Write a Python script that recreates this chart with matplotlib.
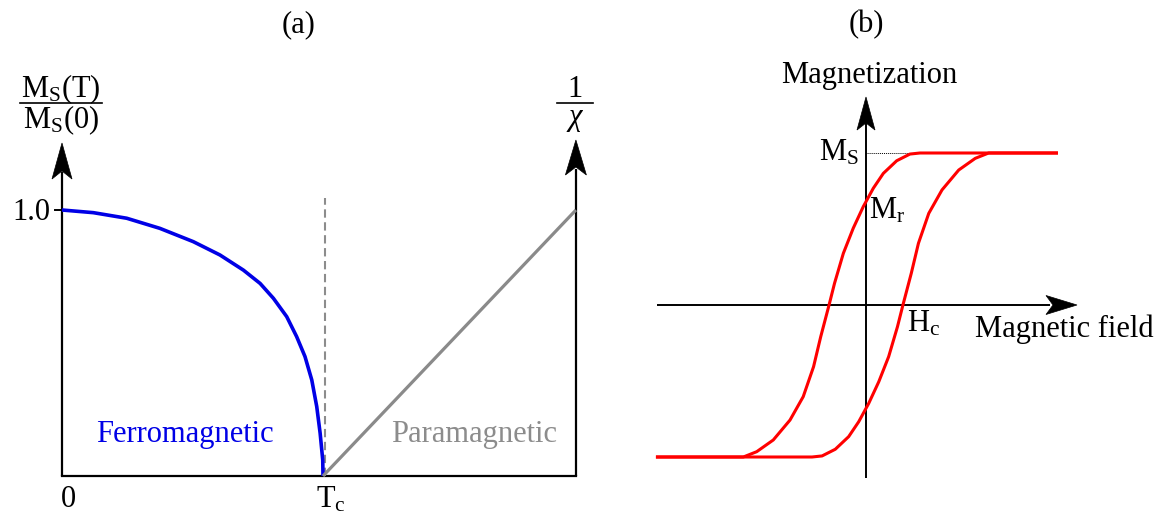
import matplotlib
matplotlib.use("Agg")
import matplotlib.pyplot as plt
from matplotlib.patches import Polygon
from matplotlib import transforms

plt.rcParams['font.family'] = ['Liberation Serif', 'DejaVu Serif']
plt.rcParams['mathtext.fontset'] = 'custom'
plt.rcParams['mathtext.rm'] = 'Liberation Serif'
plt.rcParams['mathtext.it'] = 'Liberation Serif:italic'

# ---------------- data ----------------
# (a) spontaneous magnetisation Ms(T)/Ms(0) vs T/Tc (ferromagnetic side)
T_ferro = [0.0, 0.120, 0.248, 0.375, 0.503, 0.605, 0.695, 0.759, 0.810, 0.861,
           0.899, 0.931, 0.957, 0.976, 0.989, 0.999, 1.0]
M_ferro = [1.0, 0.990, 0.969, 0.931, 0.881, 0.831, 0.774, 0.724, 0.668, 0.599,
           0.524, 0.449, 0.361, 0.261, 0.161, 0.060, 0.0]
# (a) inverse susceptibility 1/chi (paramagnetic side)
T_para = [1.0, 1.969]
inv_chi = [0.0, 1.0]
T_right_axis = 1.969

# (b) hysteresis loop (H and M normalised to Ms)
H_desc = [-1.382, -0.807, -0.719, -0.610, -0.500, -0.413, -0.345, -0.298, -0.243,
          -0.207, -0.149, -0.084, -0.018, 0.048, 0.114, 0.202, 0.289, 0.355, 1.263]
M_desc = [-1.0, -1.0, -0.965, -0.888, -0.757, -0.603, -0.406, -0.209, 0.0,
          0.143, 0.340, 0.505, 0.647, 0.768, 0.866, 0.949, 0.993, 1.0, 1.0]
H_asc = [-1.382, -0.355, -0.289, -0.202, -0.114, -0.048, 0.018, 0.084, 0.149,
         0.207, 0.243, 0.298, 0.345, 0.413, 0.500, 0.610, 0.719, 0.807, 1.263]
M_asc = [-1.0, -1.0, -0.993, -0.949, -0.866, -0.768, -0.647, -0.505, -0.340,
         -0.143, 0.0, 0.209, 0.406, 0.603, 0.757, 0.888, 0.965, 1.0, 1.0]
Ms_level = 1.0

# ---------------- figure ----------------
W, H = 1167, 516
fig = plt.figure(figsize=(W / 100, H / 100), dpi=100)

# panel (a): pixel mapping x = 62 + 261*T, y = 476 - 266*M
ax_a = fig.add_axes([0, 0, 620 / W, 1])
ax_a.set_xlim(-62 / 261, (620 - 62) / 261)
ax_a.set_ylim((476 - 516) / 266, 476 / 266)
ax_a.axis('off')

# panel (b): pixel mapping x = 866 + 152*H, y = 305 - 152*M
ax_b = fig.add_axes([620 / W, 0, (W - 620) / W, 1])
ax_b.set_xlim((620 - 866) / 152, (W - 866) / 152)
ax_b.set_ylim((305 - 516) / 152, 305 / 152)
ax_b.axis('off')


def A(xp, yp):
    return ((xp - 62) / 261, (476 - yp) / 266)


def B(xp, yp):
    return ((xp - 866) / 152, (305 - yp) / 152)


def head(ax, tip, angle, L, Wd, notch):
    verts = [(0, 0), (-L, Wd / 2), (-L + notch, 0), (-L, -Wd / 2)]
    tr = (transforms.Affine2D().scale(0.01).rotate_deg(angle)
          + fig.dpi_scale_trans
          + transforms.ScaledTranslation(tip[0], tip[1], ax.transData))
    ax.add_patch(Polygon(verts, closed=True, facecolor='black', edgecolor='black',
                         lw=0.5, transform=tr, clip_on=False))


FS = 22

# ---- panel (a) ----
axlw = 1.6
tipL = A(62, 143)
tipR = A(576, 140)
ax_a.plot([0, 0], [0, A(0, 172)[1]], color='black', lw=axlw, solid_capstyle='butt')
ax_a.plot([T_right_axis, T_right_axis], [0, A(0, 169)[1]], color='black', lw=axlw,
          solid_capstyle='butt')
ax_a.plot([0, T_right_axis], [0, 0], color='black', lw=axlw, solid_capstyle='projecting')
head(ax_a, (0, tipL[1]), 90, 36, 20, 8)
head(ax_a, (T_right_axis, tipR[1]), 90, 35, 21, 8)
# tick at 1.0
ax_a.plot([A(55, 0)[0], 0], [1.0, 1.0], color='black', lw=1.4)

# dashed Tc line
ax_a.plot([1.008, 1.008], [0, A(0, 198)[1]], color='#8c8c8c', lw=1.5, dashes=(4, 2.2))
# curves
ax_a.plot(T_ferro, M_ferro, color='#0000e6', lw=2.6, solid_capstyle='butt',
          solid_joinstyle='round')
ax_a.plot(T_para, inv_chi, color='#8a8a8a', lw=2.3, solid_capstyle='butt')

# texts
ax_a.text(*A(50, 220), '1.0', fontsize=FS, ha='right', va='baseline')
ax_a.text(*A(68, 507), '0', fontsize=FS, ha='center', va='baseline')
ax_a.text(*A(316, 507), r'$\mathrm{T_c}$', fontsize=FS, ha='left', va='baseline')
ax_a.text(*A(96, 442), 'Ferromagnetic', fontsize=FS, ha='left', va='baseline', color='#0000e6')
ax_a.text(*A(391, 442), 'Paramagnetic', fontsize=FS, ha='left', va='baseline', color='#8c8c8c')
ax_a.text(*A(299, 32), '(a)', fontsize=FS, ha='center', va='baseline')
# fraction Ms(T)/Ms(0)
ax_a.text(*A(61, 97), r'$\mathrm{M_S(T)}$', fontsize=FS, ha='center', va='baseline')
ax_a.plot([A(20, 0)[0], A(102, 0)[0]], [A(0, 103)[1]] * 2, color='black', lw=1.2)
ax_a.text(*A(61, 128), r'$\mathrm{M_S(0)}$', fontsize=FS, ha='center', va='baseline')
# fraction 1/chi
ax_a.text(*A(575, 97), '1', fontsize=FS, ha='center', va='baseline')
ax_a.plot([A(557, 0)[0], A(593, 0)[0]], [A(0, 103)[1]] * 2, color='black', lw=1.2)
ax_a.text(*A(575, 125), r'$\chi$', fontsize=FS, ha='center', va='baseline')

# ---- panel (b) ----
blw = 1.4
vtip = B(866, 97)
htip = B(1077, 305)
ax_b.plot([0, 0], [B(0, 478)[1], B(0, 122)[1]], color='black', lw=blw, solid_capstyle='butt')
ax_b.plot([B(657, 0)[0], B(1050, 0)[0]], [0, 0], color='black', lw=blw, solid_capstyle='butt')
head(ax_b, (0, vtip[1]), 90, 33, 18, 7)
head(ax_b, (htip[0], 0), 0, 31, 19, 7)
ax_b.plot([0, B(908, 0)[0]], [Ms_level, Ms_level], color='black', lw=0.7, ls=(0, (1, 1)))

ax_b.plot(H_desc, M_desc, color='#ff0000', lw=2.2, solid_capstyle='butt', solid_joinstyle='round')
ax_b.plot(H_asc, M_asc, color='#ff0000', lw=2.2, solid_capstyle='butt', solid_joinstyle='round')

ax_b.text(*B(781, 83), 'Magnetization', fontsize=FS, ha='left', va='baseline')
ax_b.text(*B(975, 337), 'Magnetic field', fontsize=FS, ha='left', va='baseline')
ax_b.text(*B(859, 160), r'$\mathrm{M_S}$', fontsize=FS, ha='right', va='baseline')
ax_b.text(*B(869, 218), r'$\mathrm{M_r}$', fontsize=FS, ha='left', va='baseline')
ax_b.text(*B(907, 332), r'$\mathrm{H_c}$', fontsize=FS, ha='left', va='baseline')
ax_b.text(*B(866, 32), '(b)', fontsize=FS, ha='center', va='baseline')

fig.savefig('out.png', dpi=100)
